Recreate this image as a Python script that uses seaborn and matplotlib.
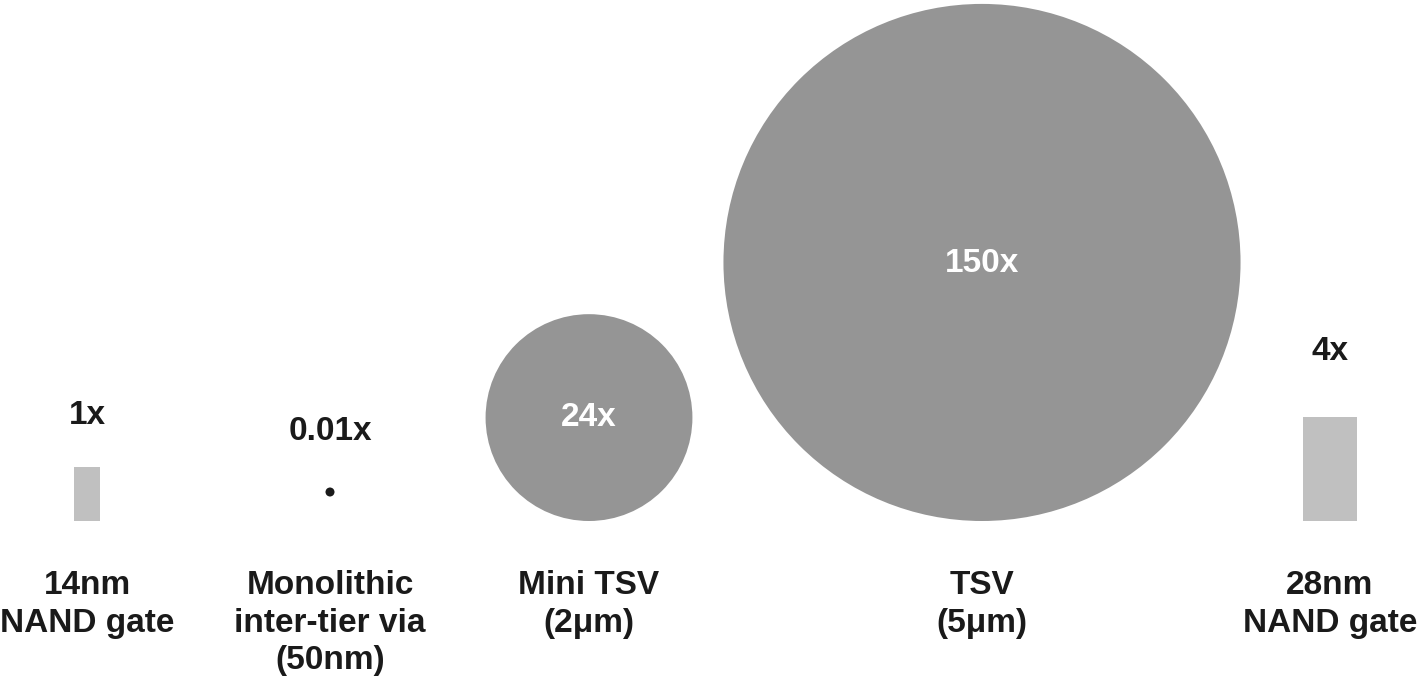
import numpy as np
import seaborn as sns
import matplotlib.pyplot as plt
from matplotlib.patches import Circle, Rectangle

# relative footprint vs. a 14nm NAND gate
names = ["14nm\nNAND gate", "Monolithic\ninter-tier via\n(50nm)", "Mini TSV\n(2\u03bcm)",
         "TSV\n(5\u03bcm)", "28nm\nNAND gate"]
ratio_labels = ["1x", "0.01x", "24x", "150x", "4x"]
ratios = [1, 0.01, 24, 150, 4]
kinds = ["rect", "dot", "circle", "circle", "rect"]

# layout (pixels)
x_pos = [87, 330, 589, 982, 1330]
label_y = [416, 432, 418, 263, 351]
rect_w = {0: 26, 4: 54}
unit_area = 1400.0
base_y = 521
dot_y = 492

sns.set_theme(style="white")
plt.rcParams['font.family'] = ['Liberation Sans', 'DejaVu Sans']

fig = plt.figure(figsize=(14.19, 6.83), dpi=100)
ax = fig.add_axes([0, 0, 1, 1])
ax.set_xlim(0, 1419)
ax.set_ylim(683, 0)
ax.set_aspect("equal")
ax.axis("off")

for i, (k, r) in enumerate(zip(kinds, ratios)):
    area = r * unit_area
    x = x_pos[i]
    if k == "rect":
        w = rect_w[i]
        h = area / w
        ax.add_patch(Rectangle((x - w / 2, base_y - h), w, h, color="#c0c0c0", lw=0))
        txt_col = "#1a1a1a"
    elif k == "circle":
        rad = np.sqrt(area / np.pi)
        ax.add_patch(Circle((x, base_y - rad), rad, color="#959595", lw=0))
        txt_col = "white"
    else:
        rad = max(np.sqrt(area / np.pi), 4.5)
        ax.add_patch(Circle((x, dot_y), rad, color="#1a1a1a", lw=0))
        txt_col = "#1a1a1a"
    ax.text(x, label_y[i], ratio_labels[i], ha="center", va="center",
            fontsize=24, fontweight="bold", color=txt_col)
    ax.text(x, 570, names[i], ha="center", va="top", fontsize=24,
            fontweight="bold", color="#1a1a1a", linespacing=1.28)

fig.savefig("out.png", dpi=100, facecolor="white")
